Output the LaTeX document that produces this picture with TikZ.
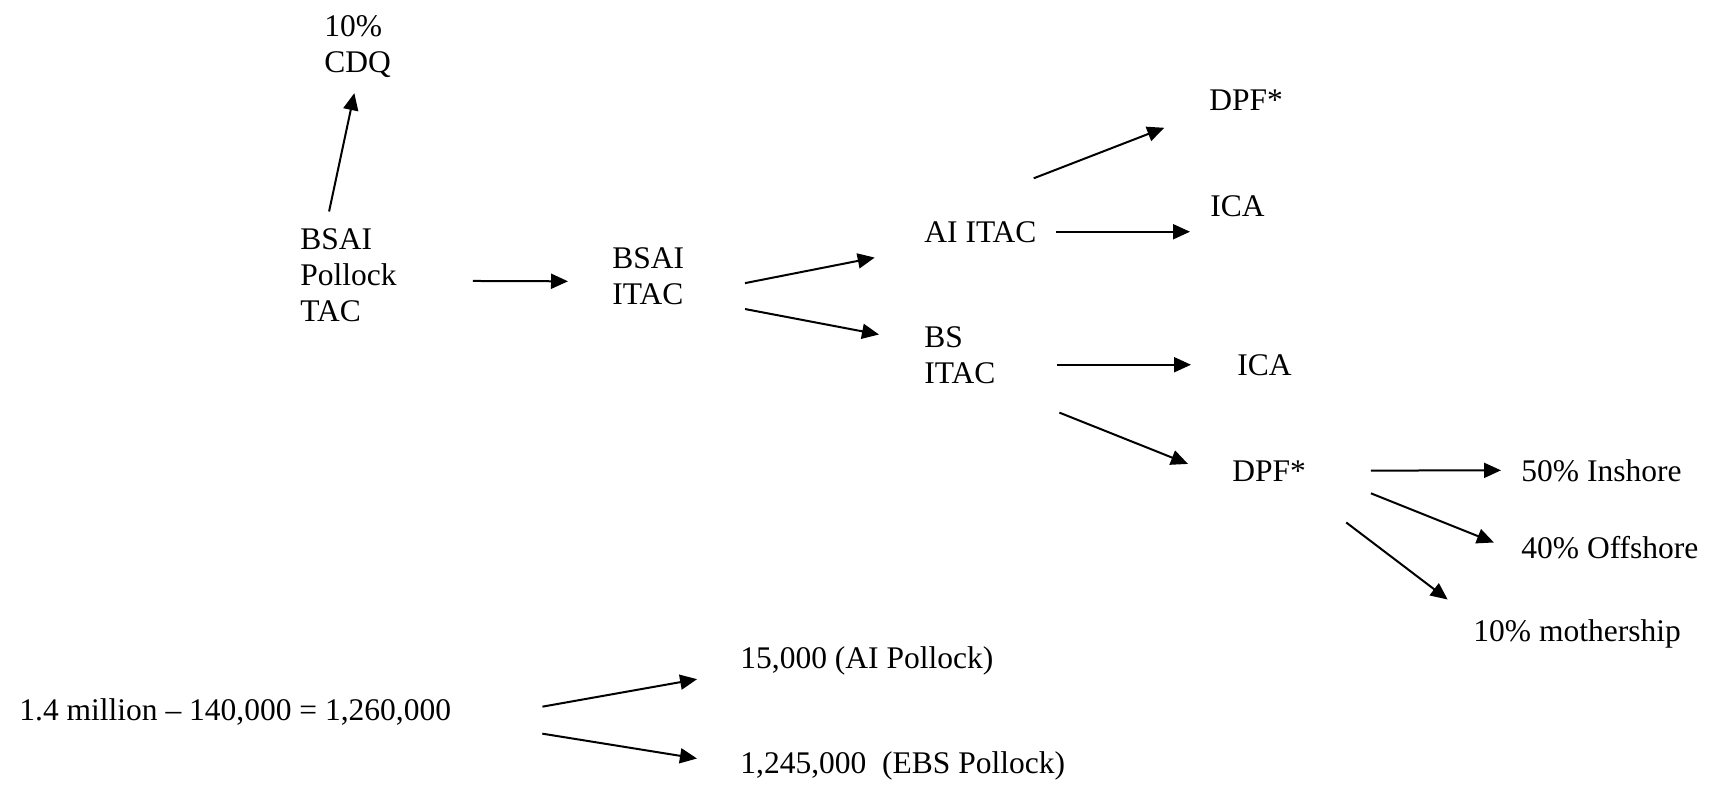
\documentclass[tikz,border=0pt]{standalone}
\usepackage{fontspec}
\setmainfont{Liberation Serif}
\usetikzlibrary{arrows.meta}

\begin{document}
\begin{tikzpicture}[x=0.5pt, y=-0.5pt,
    lbl/.style={inner sep=0pt, anchor=base west, align=left,
                font=\fontsize{15.75}{18}\selectfont},
    arr/.style={line width=1pt, -{Triangle[length=8.5pt, width=7.5pt]}}]
            \useasboundingbox (0,0) rectangle (1712,788);

            % allocation tree
            \node[lbl] (cdq) at (324,72) {10\%\\CDQ};
            \node[lbl] (tac) at (300,321) {BSAI\\Pollock\\TAC};
            \node[lbl] (bitac) at (612,304) {BSAI\\ITAC};
            \node[lbl] (aiitac) at (924,242) {AI ITAC};
            \node[lbl] (dpfa) at (1209,110) {DPF*};
            \node[lbl] (icaa) at (1210,216) {ICA};
            \node[lbl] (bsitac) at (924,383) {BS\\ITAC};
            \node[lbl] (icab) at (1237,375) {ICA};
            \node[lbl] (dpfb) at (1232,481) {DPF*};
            \node[lbl] (inshore) at (1521,481) {50\% Inshore};
            \node[lbl] (offshore) at (1521,558) {40\% Offshore};
            \node[lbl] (mother) at (1473,641) {10\% mothership};

            % numbers
            \node[lbl] (calc) at (19,720) {1.4 million -- 140,000 = 1,260,000};
            \node[lbl] (aipol) at (740,668) {15,000 (AI Pollock)};
            \node[lbl] (ebspol) at (740,773) {1,245,000~ (EBS Pollock)};

            \draw[arr, shorten <=8.3pt, shorten >=8pt] (tac.116) -- (cdq.south);
            \draw[arr, shorten <=37.9pt, shorten >=22pt] (tac.-7) -- (bitac.-171);
            \draw[arr, shorten <=30.8pt, shorten >=38.5pt] (bitac.-28) -- (aiitac.-160);
            \draw[arr, shorten <=30.8pt, shorten >=22.9pt] (bitac.-31) -- (bsitac.162);
            \draw[arr, shorten <=58.8pt, shorten >=24pt] (aiitac.north west) -- (dpfa.south west);
            \draw[arr, shorten <=9.7pt, shorten >=10pt] (aiitac.east) -- (aiitac.east -| icaa.west);
            \draw[arr, shorten <=30.8pt, shorten >=23pt] (icab.west -| bsitac.east) -- (icab.west);
            \draw[arr, shorten <=39pt, shorten >=23.7pt] (bsitac.-47) -- (dpfb.south west);
            \draw[arr, shorten <=32.3pt, shorten >=10pt] (dpfb.east) -- (inshore.west);
            \draw[arr, shorten <=34.8pt, shorten >=14.6pt] (dpfb.5) -- (offshore.-176);
            \draw[arr, shorten <=33.9pt, shorten >=15.9pt] (dpfb.-25) -- (mother.north west);
            \draw[arr, shorten <=46.2pt, shorten >=21.8pt] (calc.-3) -- (aipol.-175);
            \draw[arr, shorten <=46pt, shorten >=21.8pt] (calc.-2) -- (ebspol.west);
        \end{tikzpicture}
\end{document}
